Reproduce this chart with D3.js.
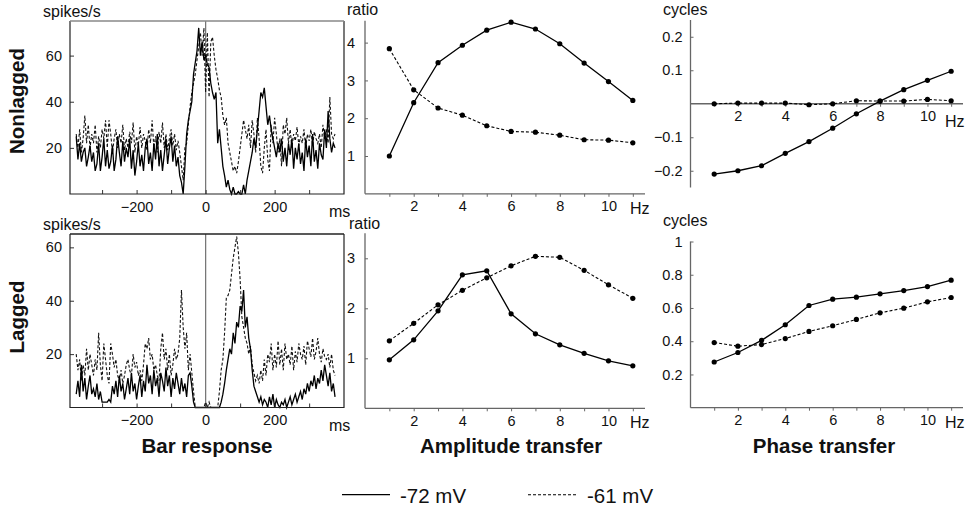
<!DOCTYPE html>
<html>
<head>
<meta charset="utf-8">
<script src="https://cdn.jsdelivr.net/npm/d3@7/dist/d3.min.js"></script>
<style>
body { margin: 0; background: #fff; }
svg text { font-family: Arial, "Liberation Sans", Helvetica, sans-serif; fill: #111; }
.tick text { font-size: 14.5px; }
.unit { font-size: 16px; }
.title { font-size: 20.5px; font-weight: bold; }
.legend-text { font-size: 20.5px; }
</style>
</head>
<body>
<div id="chart"></div>
<script>
// bar response, 5 ms bins (-375 .. 375 ms)
var barTimes = d3.range(-375, 376, 5);
var barTicks = [-300, -200, -100, 0, 100, 200, 300];
var barLabels = [-200, 0, 200];

var nlBar72 = [
    25, 15, 22, 14, 18, 20, 12, 16, 21, 14,
    18, 10, 13, 22, 10, 16, 24, 12, 19, 11,
    14, 21, 10, 15, 25, 18, 12, 23, 14, 20,
    16, 24, 11, 19, 8, 14, 22, 12, 17, 10,
    20, 24, 13, 18, 10, 22, 15, 26, 12, 19,
    10, 17, 24, 13, 20, 25, 14, 21, 12, 16,
    8, 5, 0, 12, 26, 32, 36, 40, 52, 57,
    62, 72, 60, 66, 58, 60, 56, 55, 48, 44,
    41, 44, 22, 28, 20, 12, 8, 3, 6, 2,
    0, 3, 0, 0, 1, 0, 0, 4, 0, 6,
    10, 14, 18, 24, 20, 28, 36, 44, 42, 46,
    38, 30, 34, 28, 24, 20, 16, 22, 18, 24,
    14, 20, 12, 22, 17, 24, 11, 20, 15, 22,
    13, 18, 10, 24, 16, 21, 12, 26, 14, 19,
    11, 22, 17, 15, 28, 20, 36, 24, 18, 22,
    20
];
var nlBar61 = [
    26, 20, 28, 18, 24, 34, 22, 30, 20, 26,
    22, 30, 18, 25, 20, 28, 24, 32, 20, 32,
    26, 18, 24, 28, 20, 26, 22, 30, 19, 24,
    20, 27, 22, 31, 18, 25, 21, 29, 20, 26,
    23, 19, 28, 22, 32, 20, 25, 18, 27, 22,
    31, 20, 26, 19, 24, 28, 21, 26, 19, 23,
    18, 12, 6, 20, 22, 30, 38, 44, 48, 52,
    58, 64, 70, 60, 72, 44, 70, 42, 66, 68,
    60, 54, 50, 45, 42, 34, 30, 33, 22, 18,
    14, 10, 12, 9, 14, 20, 26, 32, 28, 24,
    30, 20, 32, 26, 18, 33, 24, 12, 9, 20,
    28, 15, 10, 30, 22, 33, 26, 18, 24, 12,
    30, 26, 33, 22, 28, 20, 26, 23, 29, 21,
    25, 22, 28, 20, 26, 23, 28, 21, 27, 24,
    22, 26, 20, 30, 24, 28, 22, 42, 26, 24,
    26
];
var lgBar72 = [
    5, 10, 4, 16, 6, 11, 3, 8, 12, 5,
    7, 4, 9, 3, 6, 2, 2, 2, 2, 3,
    2, 8, 5, 10, 4, 12, 6, 9, 3, 7,
    11, 5, 13, 6, 9, 3, 8, 12, 4, 10,
    6, 16, 9, 12, 5, 14, 8, 11, 4, 13,
    10, 6, 15, 8, 12, 4, 11, 7, 13, 9,
    5, 11, 6, 9, 4, 12, 13, 8, 2, 0,
    0, 0, 0, 0, 0, 0, 0, 0, 0, 0,
    0, 0, 0, 0, 2, 5, 9, 14, 18, 22,
    20, 28, 24, 32, 30, 38, 36, 44, 30, 34,
    26, 22, 14, 8, 6, 4, 2, 4, 1, 3,
    2, 0, 4, 1, 5, 0, 3, 1, 0, 2,
    1, 3, 0, 2, 4, 1, 3, 5, 2, 4,
    6, 3, 7, 5, 9, 6, 10, 8, 12, 7,
    11, 9, 14, 10, 16, 12, 8, 13, 6, 9,
    4
];
var lgBar61 = [
    20, 14, 18, 10, 16, 12, 22, 14, 20, 16,
    12, 18, 14, 28, 16, 10, 24, 18, 12, 9,
    24, 20, 15, 18, 12, 10, 14, 9, 12, 16,
    18, 14, 12, 20, 15, 17, 12, 14, 10, 16,
    24, 22, 26, 18, 20, 14, 16, 12, 10, 22,
    28, 18, 22, 14, 20, 12, 16, 22, 18, 20,
    26, 44, 30, 22, 28, 14, 20, 13, 6, 0,
    0, 0, 0, 0, 0, 2, 0, 2, 0, 0,
    0, 0, 0, 6, 14, 18, 28, 41, 42, 44,
    50, 56, 60, 64, 58, 48, 34, 30, 26, 24,
    20, 23, 16, 13, 10, 12, 9, 14, 10, 18,
    12, 20, 17, 24, 14, 20, 15, 25, 16, 22,
    14, 24, 18, 20, 16, 23, 14, 21, 17, 24,
    20, 18, 23, 16, 25, 22, 19, 26, 18, 21,
    26, 20, 17, 22, 19, 18, 20, 15, 20, 14,
    12
];

// transfer functions
var freqs = [1, 2, 3, 4, 5, 6, 7, 8, 9, 10, 11];
var freqLabels = [2, 4, 6, 8, 10];

var nlAmp72 = [1.00, 2.41, 3.47, 3.93, 4.33, 4.54, 4.36, 3.97, 3.46, 2.97, 2.47];
var nlAmp61 = [3.84, 2.75, 2.27, 2.08, 1.80, 1.65, 1.63, 1.55, 1.43, 1.42, 1.35];
var lgAmp72 = [0.97, 1.37, 1.95, 2.67, 2.75, 1.89, 1.49, 1.27, 1.10, 0.95, 0.85];
var lgAmp61 = [1.35, 1.70, 2.07, 2.36, 2.61, 2.85, 3.04, 3.02, 2.76, 2.47, 2.20];

var nlPhase72 = [-0.210, -0.200, -0.185, -0.148, -0.113, -0.073, -0.030, 0.008, 0.042, 0.070, 0.097];
var nlPhase61 = [0.000, 0.002, 0.002, 0.002, -0.003, 0.000, 0.009, 0.008, 0.008, 0.013, 0.009];
var lgPhase72 = [0.275, 0.332, 0.405, 0.499, 0.615, 0.653, 0.665, 0.685, 0.705, 0.729, 0.767];
var lgPhase61 = [0.392, 0.370, 0.380, 0.416, 0.459, 0.493, 0.531, 0.571, 0.599, 0.637, 0.663];

var legendNames = ["-72 mV", "-61 mV"];
var dashStyle = "3,2";

var svg = d3.select("#chart").append("svg")
    .attr("width", 968)
    .attr("height", 508);

svg.append("rect").attr("width", 968).attr("height", 508).attr("fill", "#fff");

function drawBarPanel(box, yMax, yTicks, v72, v61, topStroke) {
    var g = svg.append("g");
    var x = d3.scaleLinear().domain([-393, 401]).range([box.x0, box.x1]);
    var y = d3.scaleLinear().domain([0, yMax]).range([box.y1, box.y0]);
    var fmt = d3.format("d");

    var line = d3.line()
        .x(function(d, i) { return x(barTimes[i]); })
        .y(function(d) { return y(d); });

    // zero line
    g.append("line")
        .attr("x1", x(0)).attr("x2", x(0))
        .attr("y1", box.y0).attr("y2", box.y1)
        .attr("stroke", "#777").attr("stroke-width", 1.3);

    g.append("path").datum(v61)
        .attr("d", line)
        .attr("fill", "none").attr("stroke", "#111")
        .attr("stroke-width", 1.1)
        .attr("stroke-dasharray", dashStyle);

    g.append("path").datum(v72)
        .attr("d", line)
        .attr("fill", "none").attr("stroke", "#000")
        .attr("stroke-width", 1.3);

    var xAxis = d3.axisBottom(x)
        .tickValues(barTicks)
        .tickSize(-4)
        .tickPadding(7.5)
        .tickFormat(function(d) { return barLabels.indexOf(d) >= 0 ? fmt(d) : ""; });

    var yAxis = d3.axisLeft(y)
        .tickValues(yTicks)
        .tickSize(-4)
        .tickPadding(8)
        .tickFormat(fmt);

    g.append("g").attr("transform", "translate(0," + box.y1 + ")").call(xAxis);
    g.append("g").attr("transform", "translate(" + box.x0 + ",0)").call(yAxis);
    g.selectAll(".domain").remove();
    g.selectAll(".tick line").attr("stroke", "#333");

    // frame
    g.append("path")
        .attr("d", "M" + box.x1 + "," + box.y0 + "V" + box.y1 + "H" + box.x0 + "V" + box.y0)
        .attr("fill", "none").attr("stroke", "#222").attr("stroke-width", 1.2);
    g.append("line")
        .attr("x1", box.x0).attr("x2", box.x1)
        .attr("y1", box.y0).attr("y2", box.y0)
        .attr("stroke", topStroke).attr("stroke-width", 1.4);

    g.append("text").attr("class", "unit")
        .attr("x", 43).attr("y", box.y0 - 4.5)
        .text("spikes/s");
    g.append("text").attr("class", "unit")
        .attr("x", 329).attr("y", box.y1 + 23)
        .text("ms");
}

function drawTransferPanel(opt) {
    var g = svg.append("g");
    var x = d3.scaleLinear().domain([0, 11.5]).range([opt.left, opt.right]);
    var y = d3.scaleLinear().domain(opt.yDomain).range(opt.yRange);
    var axisY = y(opt.yDomain[0] < 0 ? 0 : opt.yDomain[0]);

    var line = d3.line()
        .x(function(d, i) { return x(freqs[i]); })
        .y(function(d) { return y(d); });

    // axes
    g.append("line")
        .attr("x1", opt.left).attr("x2", opt.left)
        .attr("y1", opt.yRange[0]).attr("y2", opt.yRange[1])
        .attr("stroke", "#666").attr("stroke-width", 1.3);
    g.append("line")
        .attr("x1", opt.left).attr("x2", opt.right)
        .attr("y1", axisY).attr("y2", axisY)
        .attr("stroke", "#666").attr("stroke-width", 1.3);

    var xAxis = d3.axisBottom(x)
        .tickValues(freqs)
        .tickSize(3)
        .tickPadding(4)
        .tickFormat(function(d) { return freqLabels.indexOf(d) >= 0 ? d : ""; });
    var yAxis = d3.axisLeft(y)
        .tickValues(opt.yTicks)
        .tickSize(-3)
        .tickPadding(opt.yPad)
        .tickFormat(opt.yFmt);

    g.append("g").attr("transform", "translate(0," + axisY + ")").call(xAxis);
    g.append("g").attr("transform", "translate(" + opt.left + ",0)").call(yAxis);
    g.selectAll(".domain").remove();
    g.selectAll(".tick line").attr("stroke", "#666");

    [[opt.v61, true], [opt.v72, false]].forEach(function(s) {
        g.append("path").datum(s[0])
            .attr("d", line)
            .attr("fill", "none").attr("stroke", "#000")
            .attr("stroke-width", s[1] ? 1.1 : 1.3)
            .attr("stroke-dasharray", s[1] ? dashStyle : null);
        g.selectAll(null).data(s[0]).enter().append("circle")
            .attr("cx", function(d, i) { return x(freqs[i]); })
            .attr("cy", function(d) { return y(d); })
            .attr("r", 2.6)
            .attr("fill", "#000");
    });

    g.append("text").attr("class", "unit")
        .attr("x", opt.unitX).attr("y", opt.unitY)
        .text(opt.unit);
    g.append("text").attr("class", "unit")
        .attr("x", opt.hzX).attr("y", axisY + opt.hzDy)
        .text("Hz");
}

// bar response panels
drawBarPanel({x0: 70, x1: 344, y0: 21, y1: 194}, 75, [20, 40, 60], nlBar72, nlBar61, "#888");
drawBarPanel({x0: 70, x1: 344, y0: 234, y1: 407.5}, 65, [20, 40, 60], lgBar72, lgBar61, "#222");

// amplitude panels
var intFmt = d3.format("d");
drawTransferPanel({left: 365, right: 645, yDomain: [0, 4.58], yRange: [193.8, 20.7],
    yTicks: [1, 2, 3, 4], yFmt: intFmt, yPad: 10, v72: nlAmp72, v61: nlAmp61,
    unit: "ratio", unitX: 347, unitY: 15, hzX: 630, hzDy: 20.5});
drawTransferPanel({left: 365, right: 645, yDomain: [0, 3.5], yRange: [408.3, 233.3],
    yTicks: [1, 2, 3], yFmt: intFmt, yPad: 10, v72: lgAmp72, v61: lgAmp61,
    unit: "ratio", unitX: 349, unitY: 228.5, hzX: 630, hzDy: 20});

// phase panels
var phaseFmt = function(d) { return d3.format(".1f")(d).replace("-", "\u2212"); };
drawTransferPanel({left: 690.5, right: 963, yDomain: [-0.25, 0.25], yRange: [187.5, 20],
    yTicks: [-0.2, -0.1, 0.1, 0.2], yFmt: phaseFmt, yPad: 8, v72: nlPhase72, v61: nlPhase61,
    unit: "cycles", unitX: 663, unitY: 14.5, hzX: 945, hzDy: 23});
drawTransferPanel({left: 690.5, right: 963, yDomain: [0, 1], yRange: [407.7, 241.5],
    yTicks: [0.2, 0.4, 0.6, 0.8, 1], yFmt: function(d) { return d === 1 ? "1" : d3.format(".1f")(d); },
    yPad: 8, v72: lgPhase72, v61: lgPhase61,
    unit: "cycles", unitX: 663, unitY: 225.5, hzX: 945, hzDy: 20.5});

// column titles
[["Bar response", 207], ["Amplitude transfer", 511], ["Phase transfer", 824]].forEach(function(t) {
    svg.append("text").attr("class", "title")
        .attr("x", t[1]).attr("y", 453)
        .attr("text-anchor", "middle")
        .text(t[0]);
});

// row titles
[["Nonlagged", 101], ["Lagged", 317]].forEach(function(t) {
    svg.append("text").attr("class", "title")
        .attr("transform", "translate(24," + t[1] + ") rotate(-90)")
        .attr("text-anchor", "middle")
        .text(t[0]);
});

// legend
var legend = svg.append("g");
[[342, 400, null], [528, 587, dashStyle]].forEach(function(l, i) {
    legend.append("line")
        .attr("x1", l[0]).attr("x2", l[0] + 48)
        .attr("y1", 494.7).attr("y2", 494.7)
        .attr("stroke", "#000")
        .attr("stroke-width", i ? 1.1 : 1.3)
        .attr("stroke-dasharray", l[2]);
    legend.append("text").attr("class", "legend-text")
        .attr("x", l[1]).attr("y", 503)
        .text(legendNames[i]);
});
</script>
</body>
</html>
